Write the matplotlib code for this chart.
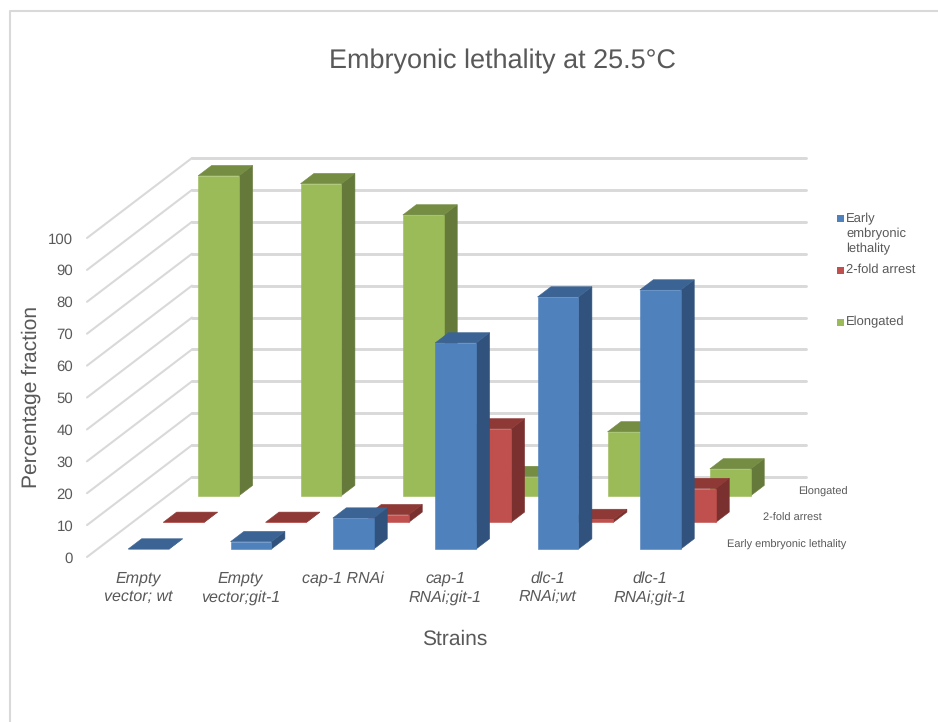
import matplotlib
matplotlib.use("Agg")
import matplotlib.pyplot as plt
from matplotlib.patches import Polygon, Rectangle

plt.rcParams['font.family'] = ['Liberation Sans', 'DejaVu Sans']
plt.rcParams['text.hinting'] = 'no_hinting'
plt.rcParams['text.hinting_factor'] = 1

# ---- data ----
categories = ["Empty\nvector; wt", "Empty\nvector;git-1", "cap-1 RNAi",
              "cap-1\nRNAi;git-1", "dlc-1\nRNAi;wt", "dlc-1\nRNAi;git-1"]
early = [0, 2.3, 9.7, 64.6, 79, 81.2]
twofold = [0, 0, 2.4, 29.3, 0.9, 10.6]
elongated = [100.3, 97.8, 88, 6, 20, 8.4]
series_names = ["Early embryonic lethality", "2-fold arrest", "Elongated"]
value_ticks = list(range(0, 101, 10))

front_colors = ["#4F81BD", "#C0504D", "#9BBB59"]
top_colors = ["#3B6494", "#8E3936", "#748D42"]
side_colors = ["#30527C", "#7A302E", "#65793A"]
TXT = "#595959"
GRID = "#D9D9D9"

W, H = 938, 722
fig = plt.figure(figsize=(W / 100, H / 100), dpi=100, facecolor="white")
ax = fig.add_axes([87 / W, 1 - 557 / H, 614 / W, 319 / H])
ax.set_xlim(0, 6)
ax.set_ylim(0, 100)
ax.patch.set_visible(False)
for s in ax.spines.values():
    s.set_visible(False)

# oblique depth: one full depth moves this far in data units
DX = 105 / (614 / 6)
DY = 80 / 3.19


def proj(x, depth, v):
    return x + DX * depth, v + DY * depth


# gridlines: side wall and back wall
for v in value_ticks:
    ax.plot(*zip(proj(0, 0, v), proj(0, 1, v)), color=GRID, lw=1.5,
            clip_on=False, zorder=1, solid_capstyle="round")
    ax.plot(*zip(proj(0, 1, v), proj(6, 1, v)), color=GRID, lw=2.1,
            clip_on=False, zorder=1, solid_capstyle="round")

# bars, back series first
all_values = [early, twofold, elongated]
BAR_L, BAR_R = 0.3, 0.7
D0, D1 = 0.1, 0.228
z = 2
for s in (2, 1, 0):
    base = s / 3
    for i, val in enumerate(all_values[s]):
        xl, xr = i + BAR_L, i + BAR_R
        d0, d1 = base + D0, base + D1
        side = [proj(xr, d0, 0), proj(xr, d1, 0), proj(xr, d1, val), proj(xr, d0, val)]
        top = [proj(xl, d0, val), proj(xr, d0, val), proj(xr, d1, val), proj(xl, d1, val)]
        front = [proj(xl, d0, 0), proj(xr, d0, 0), proj(xr, d0, val), proj(xl, d0, val)]
        for pts, col in ((side, side_colors[s]), (top, top_colors[s]), (front, front_colors[s])):
            ax.add_patch(Polygon(pts, closed=True, fc=col, ec=col, lw=0.4, clip_on=False, zorder=z))
        z += 1

# axes text
ax.set_yticks(value_ticks)
ax.set_yticklabels([str(v) for v in value_ticks], color=TXT, fontsize=11)
ax.set_xticks([i + 0.5 for i in range(len(categories))])
ax.set_xticklabels(categories, color=TXT, fontsize=11.2, style="italic", linespacing=1.33, va="top")
ax.tick_params(axis="both", length=0)
ax.tick_params(axis="y", pad=10)
ax.tick_params(axis="x", pad=10)


def px(x, y):
    return x / W, 1 - y / H


fig.text(*px(502, 61), "Embryonic lethality at 25.5°C", color=TXT, fontsize=19.1, ha="center", va="center")
fig.text(*px(455, 639), "Strains", color=TXT, fontsize=15.3, ha="center", va="center")
fig.text(*px(31, 397), "Percentage fraction", color=TXT, fontsize=15.1, rotation=90, ha="center", va="center")

# depth-axis labels
for name, cx, cy in zip(series_names, (787, 792.5, 823), (545, 518, 492)):
    fig.text(*px(cx, cy), name, color=TXT, fontsize=7.6, ha="center", va="center")

# legend
legend_labels = ["Early\nembryonic\nlethality", "2-fold arrest", "Elongated"]
for lab, col, sy, ty in zip(legend_labels, front_colors, (218, 270, 322), (234, 270, 322)):
    fig.patches.append(Rectangle((837 / W, 1 - (sy + 3.5) / H), 7 / W, 7 / H, transform=fig.transFigure,
                                 fc=col, ec="none"))
    fig.text(*px(846, ty), lab, color=TXT, fontsize=9.5, ha="left", va="center", linespacing=1.35)

# chart frame
fig.add_artist(plt.Line2D([10 / W, 10 / W, 1], [0, 1 - 11 / H, 1 - 11 / H], color="#D9D9D9", lw=1.5,
                          transform=fig.transFigure))

fig.savefig("out.png", dpi=100)
